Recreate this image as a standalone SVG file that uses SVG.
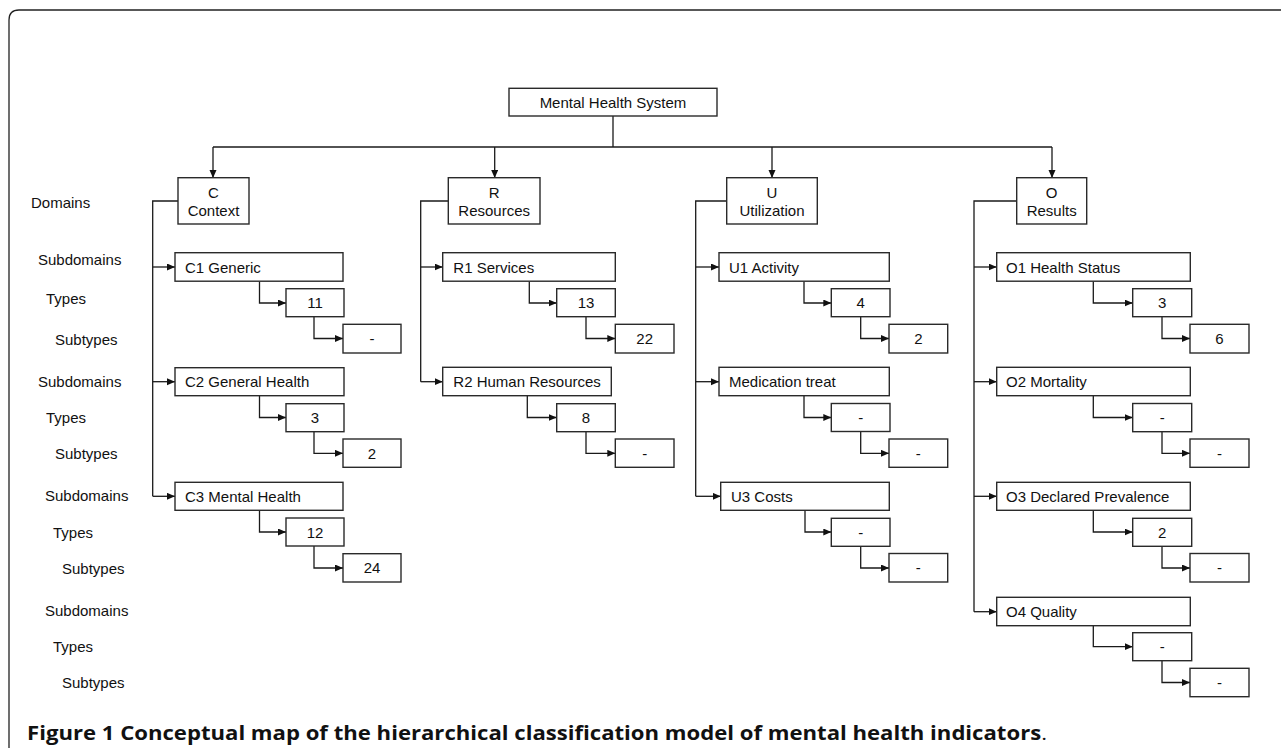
<svg xmlns="http://www.w3.org/2000/svg" width="1281" height="751" viewBox="0 0 1281 751">
<defs>
<marker id="ah" markerWidth="9" markerHeight="8" refX="8" refY="3.5" orient="auto" markerUnits="userSpaceOnUse">
<path d="M0,0 L8,3.5 L0,7 z" fill="#111"/>
</marker>
<style>
.bx{fill:#fff;stroke:#2a2a2a;stroke-width:1.4}
.t{font-family:"Liberation Sans",Arial,sans-serif;font-size:15px;fill:#111}
.c{text-anchor:middle}
.lab{font-family:"Liberation Sans",Arial,sans-serif;font-size:15px;fill:#111}
.ln{fill:none;stroke:#1a1a1a;stroke-width:1.3}
.ar{marker-end:url(#ah)}
.cap{font-family:"Open Sans","Liberation Sans",sans-serif;font-size:19px;font-weight:bold;fill:#111}
</style>
</defs>
<rect width="1281" height="751" fill="#fff"/>
<path d="M9,748 L9,20 Q9,10 19,10 L1281,10" fill="none" stroke="#222" stroke-width="1.3"/>

<g id="level-labels">
<text class="lab" x="31" y="207.5">Domains</text>
<text class="lab" x="38" y="265">Subdomains</text>
<text class="lab" x="46" y="304">Types</text>
<text class="lab" x="55" y="345">Subtypes</text>
<text class="lab" x="38" y="386.5">Subdomains</text>
<text class="lab" x="46" y="423">Types</text>
<text class="lab" x="55" y="459">Subtypes</text>
<text class="lab" x="45" y="501">Subdomains</text>
<text class="lab" x="53" y="537.5">Types</text>
<text class="lab" x="62" y="574">Subtypes</text>
<text class="lab" x="45" y="615.5">Subdomains</text>
<text class="lab" x="53" y="652">Types</text>
<text class="lab" x="62" y="688">Subtypes</text>
</g>

<g id="connectors">
<path class="ln" d="M613,116 V147"/>
<path class="ln" d="M213,147 H1052"/>
<path class="ln ar" d="M213,147 V178"/>
<path class="ln ar" d="M494.7,147 V178"/>
<path class="ln ar" d="M772,147 V178"/>
<path class="ln ar" d="M1052,147 V178"/>
<!-- C -->
<path class="ln" d="M178,201 H152.7 V496.3"/>
<path class="ln ar" d="M152.7,267 H175"/>
<path class="ln ar" d="M152.7,381.7 H175"/>
<path class="ln ar" d="M152.7,496.3 H175"/>
<path class="ln ar" d="M259.5,281.5 V303 H286"/>
<path class="ln ar" d="M314,317 V338.5 H343"/>
<path class="ln ar" d="M259.5,396 V417.5 H286"/>
<path class="ln ar" d="M314,431.7 V453.3 H343"/>
<path class="ln ar" d="M259.5,510.5 V532 H286"/>
<path class="ln ar" d="M314,546 V568 H343"/>
<!-- R -->
<path class="ln" d="M448.3,201 H420.7 V381.7"/>
<path class="ln ar" d="M420.7,267 H442.7"/>
<path class="ln ar" d="M420.7,381.7 H442.7"/>
<path class="ln ar" d="M529.3,281.5 V303 H556.7"/>
<path class="ln ar" d="M586,317 V338.5 H615.3"/>
<path class="ln ar" d="M527.3,396 V417.5 H556.7"/>
<path class="ln ar" d="M586,431.7 V453.3 H615.3"/>
<!-- U -->
<path class="ln" d="M726.7,201 H695.7 V496.3"/>
<path class="ln ar" d="M695.7,267 H719"/>
<path class="ln ar" d="M695.7,381.7 H719"/>
<path class="ln ar" d="M695.7,496.3 H720.7"/>
<path class="ln ar" d="M804,281.5 V303 H831.3"/>
<path class="ln ar" d="M860.7,317 V338.5 H889"/>
<path class="ln ar" d="M804,396 V417.5 H831.3"/>
<path class="ln ar" d="M860.7,431.7 V453.3 H889"/>
<path class="ln ar" d="M805,510.5 V532 H831.3"/>
<path class="ln ar" d="M860.7,546 V568 H889"/>
<!-- O -->
<path class="ln" d="M1016.7,201 H974 V611.7"/>
<path class="ln ar" d="M974,267 H996.7"/>
<path class="ln ar" d="M974,381.7 H996.7"/>
<path class="ln ar" d="M974,496.3 H996.7"/>
<path class="ln ar" d="M974,611.7 H996.7"/>
<path class="ln ar" d="M1093.3,281.5 V303 H1132.7"/>
<path class="ln ar" d="M1162,317 V338.5 H1190"/>
<path class="ln ar" d="M1093.3,396 V417.5 H1132.7"/>
<path class="ln ar" d="M1162,431.7 V453.3 H1190"/>
<path class="ln ar" d="M1093.3,510.5 V532 H1132.7"/>
<path class="ln ar" d="M1162,546 V568 H1190"/>
<path class="ln ar" d="M1093.3,625.7 V646.7 H1132.7"/>
<path class="ln ar" d="M1162,660.7 V682.5 H1190"/>
</g>

<g id="mhs"><rect class="bx" x="509" y="88.3" width="208" height="27.7"/><text class="t c" x="613" y="107.5">Mental Health System</text></g>

<g id="C"><rect class="bx" x="178" y="177.7" width="71" height="46.3"/><text class="t c" x="213.5" y="197.5">C</text><text class="t c" x="213.5" y="215.5">Context</text></g>
<g id="C1"><rect class="bx" x="175" y="252.7" width="168" height="28.5"/><text class="t" x="185" y="272.5">C1 Generic</text></g>
<g id="C1-t"><rect class="bx" x="286" y="288.7" width="58" height="28"/><text class="t c" x="315" y="308">11</text></g>
<g id="C1-s"><rect class="bx" x="343" y="324.3" width="58" height="28.7"/><text class="t c" x="372" y="343.5">-</text></g>
<g id="C2"><rect class="bx" x="175" y="367.7" width="169" height="28"/><text class="t" x="185" y="387">C2 General Health</text></g>
<g id="C2-t"><rect class="bx" x="286" y="403.7" width="58" height="28"/><text class="t c" x="315" y="423">3</text></g>
<g id="C2-s"><rect class="bx" x="343" y="439" width="58" height="28.3"/><text class="t c" x="372" y="458.5">2</text></g>
<g id="C3"><rect class="bx" x="175" y="482.3" width="168" height="28"/><text class="t" x="185" y="501.5">C3 Mental Health</text></g>
<g id="C3-t"><rect class="bx" x="286" y="518" width="58" height="28"/><text class="t c" x="315" y="537.5">12</text></g>
<g id="C3-s"><rect class="bx" x="343" y="553.7" width="58" height="28.3"/><text class="t c" x="372" y="573">24</text></g>

<g id="R"><rect class="bx" x="448.3" y="177.7" width="91.7" height="46.3"/><text class="t c" x="494.2" y="197.5">R</text><text class="t c" x="494.2" y="215.5">Resources</text></g>
<g id="R1"><rect class="bx" x="442.7" y="252.7" width="172.6" height="28.5"/><text class="t" x="453.3" y="272.5">R1 Services</text></g>
<g id="R1-t"><rect class="bx" x="556.7" y="288.7" width="58.6" height="28"/><text class="t c" x="586" y="308">13</text></g>
<g id="R1-s"><rect class="bx" x="615.3" y="324.3" width="58.7" height="28.7"/><text class="t c" x="644.7" y="343.5">22</text></g>
<g id="R2"><rect class="bx" x="442.7" y="367.3" width="168.6" height="28.4"/><text class="t" x="453.3" y="387">R2 Human Resources</text></g>
<g id="R2-t"><rect class="bx" x="556.7" y="403.7" width="58.6" height="28"/><text class="t c" x="586" y="423">8</text></g>
<g id="R2-s"><rect class="bx" x="615.3" y="439" width="58.7" height="28.3"/><text class="t c" x="644.7" y="458.5">-</text></g>

<g id="U"><rect class="bx" x="726.7" y="177.7" width="90.6" height="46.3"/><text class="t c" x="772" y="197.5">U</text><text class="t c" x="772" y="215.5">Utilization</text></g>
<g id="U1"><rect class="bx" x="719" y="252.7" width="170.3" height="28.5"/><text class="t" x="729" y="272.5">U1 Activity</text></g>
<g id="U1-t"><rect class="bx" x="831.3" y="288.7" width="58.7" height="28"/><text class="t c" x="860.7" y="308">4</text></g>
<g id="U1-s"><rect class="bx" x="889" y="324.3" width="58.7" height="28.7"/><text class="t c" x="918.3" y="343.5">2</text></g>
<g id="U2"><rect class="bx" x="719" y="367.3" width="170.3" height="28.4"/><text class="t" x="729" y="387">Medication treat</text></g>
<g id="U2-t"><rect class="bx" x="831.3" y="403.5" width="58.7" height="28"/><text class="t c" x="860.7" y="423">-</text></g>
<g id="U2-s"><rect class="bx" x="889" y="439" width="58.7" height="28.3"/><text class="t c" x="918.3" y="458.5">-</text></g>
<g id="U3"><rect class="bx" x="720.7" y="482.3" width="168.6" height="28"/><text class="t" x="731" y="501.5">U3 Costs</text></g>
<g id="U3-t"><rect class="bx" x="831.3" y="518.3" width="58.7" height="28"/><text class="t c" x="860.7" y="537.5">-</text></g>
<g id="U3-s"><rect class="bx" x="889" y="553.5" width="58.7" height="28.5"/><text class="t c" x="918.3" y="573">-</text></g>

<g id="O"><rect class="bx" x="1016.7" y="177.7" width="70" height="46.3"/><text class="t c" x="1051.7" y="197.5">O</text><text class="t c" x="1051.7" y="215.5">Results</text></g>
<g id="O1"><rect class="bx" x="996.7" y="252.7" width="193.6" height="28.5"/><text class="t" x="1006" y="272.5">O1 Health Status</text></g>
<g id="O1-t"><rect class="bx" x="1132.7" y="288.7" width="59" height="28"/><text class="t c" x="1162.2" y="308">3</text></g>
<g id="O1-s"><rect class="bx" x="1190" y="324.3" width="59" height="28.7"/><text class="t c" x="1219.5" y="343.5">6</text></g>
<g id="O2"><rect class="bx" x="996.7" y="367.3" width="193.6" height="28.4"/><text class="t" x="1006" y="387">O2 Mortality</text></g>
<g id="O2-t"><rect class="bx" x="1132.7" y="403.5" width="59" height="28.2"/><text class="t c" x="1162.2" y="423">-</text></g>
<g id="O2-s"><rect class="bx" x="1190" y="439" width="59" height="28.3"/><text class="t c" x="1219.5" y="458.5">-</text></g>
<g id="O3"><rect class="bx" x="996.7" y="482.3" width="193.6" height="28"/><text class="t" x="1006" y="501.5">O3 Declared Prevalence</text></g>
<g id="O3-t"><rect class="bx" x="1132.7" y="518.3" width="59" height="28"/><text class="t c" x="1162.2" y="537.5">2</text></g>
<g id="O3-s"><rect class="bx" x="1190" y="553.5" width="59" height="28.5"/><text class="t c" x="1219.5" y="573">-</text></g>
<g id="O4"><rect class="bx" x="996.7" y="597.3" width="193.6" height="28.4"/><text class="t" x="1006" y="617">O4 Quality</text></g>
<g id="O4-t"><rect class="bx" x="1132.7" y="632.7" width="59" height="28"/><text class="t c" x="1162.2" y="652">-</text></g>
<g id="O4-s"><rect class="bx" x="1190" y="668.3" width="59" height="28.4"/><text class="t c" x="1219.5" y="687.5">-</text></g>

<text class="cap" x="27" y="740" textLength="1020" lengthAdjust="spacingAndGlyphs">Figure 1 Conceptual map of the hierarchical classification model of mental health indicators<tspan font-weight="normal">.</tspan></text>
</svg>
